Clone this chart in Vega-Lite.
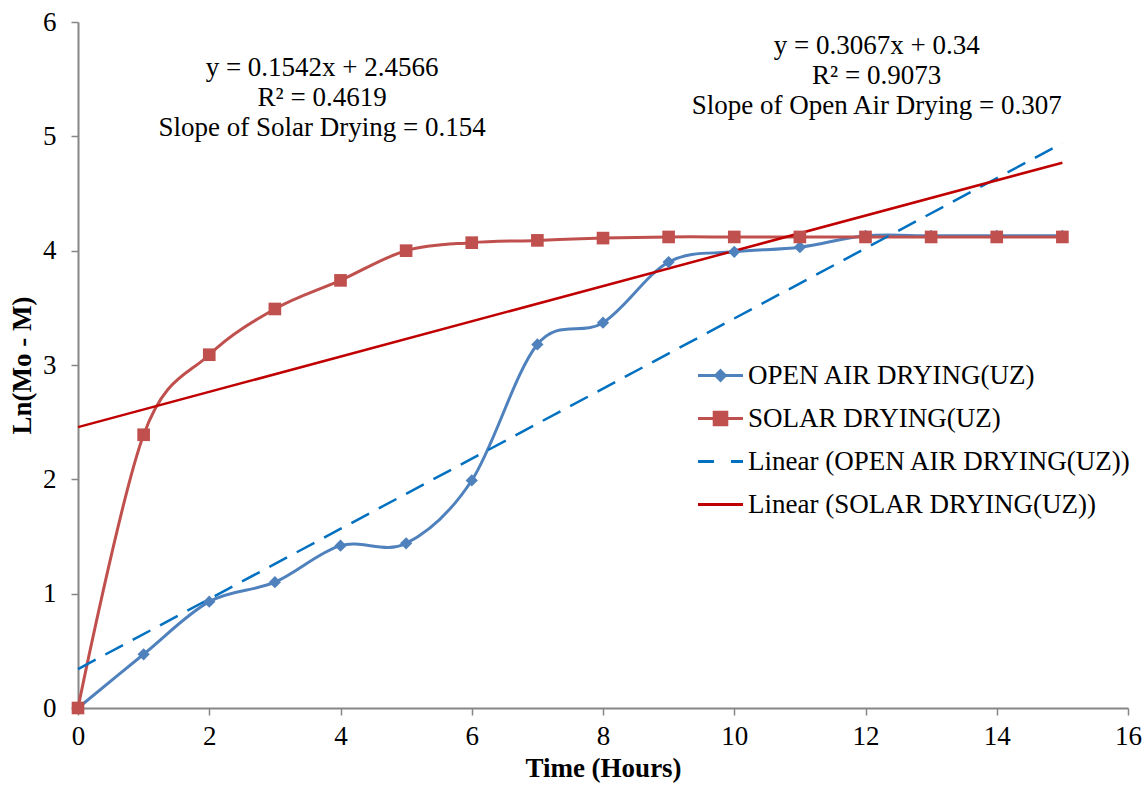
{
  "$schema": "https://vega.github.io/schema/vega-lite/v6.json",
  "width": 1050,
  "height": 686,
  "autosize": {"type": "none"},
  "padding": {"left": 78, "top": 22, "right": 16, "bottom": 80},
  "background": "white",
  "config": {"view": {"stroke": null}, "font": "Liberation Serif"},
  "datasets": {
    "obs": [
      {"time": 0, "value": 0, "series": "OPEN AIR DRYING(UZ)"},
      {"time": 1, "value": 0.47, "series": "OPEN AIR DRYING(UZ)"},
      {"time": 2, "value": 0.93, "series": "OPEN AIR DRYING(UZ)"},
      {"time": 3, "value": 1.10, "series": "OPEN AIR DRYING(UZ)"},
      {"time": 4, "value": 1.42, "series": "OPEN AIR DRYING(UZ)"},
      {"time": 5, "value": 1.44, "series": "OPEN AIR DRYING(UZ)"},
      {"time": 6, "value": 1.99, "series": "OPEN AIR DRYING(UZ)"},
      {"time": 7, "value": 3.18, "series": "OPEN AIR DRYING(UZ)"},
      {"time": 8, "value": 3.37, "series": "OPEN AIR DRYING(UZ)"},
      {"time": 9, "value": 3.90, "series": "OPEN AIR DRYING(UZ)"},
      {"time": 10, "value": 3.99, "series": "OPEN AIR DRYING(UZ)"},
      {"time": 11, "value": 4.03, "series": "OPEN AIR DRYING(UZ)"},
      {"time": 12, "value": 4.13, "series": "OPEN AIR DRYING(UZ)"},
      {"time": 13, "value": 4.13, "series": "OPEN AIR DRYING(UZ)"},
      {"time": 14, "value": 4.13, "series": "OPEN AIR DRYING(UZ)"},
      {"time": 15, "value": 4.13, "series": "OPEN AIR DRYING(UZ)"},
      {"time": 0, "value": 0, "series": "SOLAR DRYING(UZ)"},
      {"time": 1, "value": 2.39, "series": "SOLAR DRYING(UZ)"},
      {"time": 2, "value": 3.09, "series": "SOLAR DRYING(UZ)"},
      {"time": 3, "value": 3.49, "series": "SOLAR DRYING(UZ)"},
      {"time": 4, "value": 3.74, "series": "SOLAR DRYING(UZ)"},
      {"time": 5, "value": 4.00, "series": "SOLAR DRYING(UZ)"},
      {"time": 6, "value": 4.07, "series": "SOLAR DRYING(UZ)"},
      {"time": 7, "value": 4.09, "series": "SOLAR DRYING(UZ)"},
      {"time": 8, "value": 4.11, "series": "SOLAR DRYING(UZ)"},
      {"time": 9, "value": 4.12, "series": "SOLAR DRYING(UZ)"},
      {"time": 10, "value": 4.12, "series": "SOLAR DRYING(UZ)"},
      {"time": 11, "value": 4.12, "series": "SOLAR DRYING(UZ)"},
      {"time": 12, "value": 4.12, "series": "SOLAR DRYING(UZ)"},
      {"time": 13, "value": 4.12, "series": "SOLAR DRYING(UZ)"},
      {"time": 14, "value": 4.12, "series": "SOLAR DRYING(UZ)"},
      {"time": 15, "value": 4.12, "series": "SOLAR DRYING(UZ)"}
    ],
    "trend": [
      {"time": 0, "value": 0.34, "series": "Linear (OPEN AIR DRYING(UZ))"},
      {"time": 15, "value": 4.9405, "series": "Linear (OPEN AIR DRYING(UZ))"},
      {"time": 0, "value": 2.4566, "series": "Linear (SOLAR DRYING(UZ))"},
      {"time": 15, "value": 4.7696, "series": "Linear (SOLAR DRYING(UZ))"}
    ],
    "notes": [
      {"time": 3.72, "value": 5.6, "note": "y = 0.1542x + 2.4566\nR² = 0.4619\nSlope of Solar Drying = 0.154"},
      {"time": 12.17, "value": 5.79, "note": "y = 0.3067x + 0.34\nR² = 0.9073\nSlope of Open Air Drying = 0.307"}
    ]
  },
  "layer": [
    {
      "data": {"name": "obs"},
      "mark": {"type": "line", "interpolate": "cardinal", "strokeWidth": 3},
      "encoding": {
        "x": {
          "field": "time", "type": "quantitative",
          "scale": {"domain": [0, 16], "nice": false},
          "axis": {
            "values": [0, 2, 4, 6, 8, 10, 12, 14, 16], "format": "d",
            "grid": false, "labelFlush": false,
            "domainColor": "#868686", "domainWidth": 2,
            "tickColor": "#868686", "tickWidth": 1.5, "tickSize": 7,
            "labelFont": "Liberation Serif", "labelFontSize": 27, "labelColor": "#000000", "labelPadding": 8,
            "title": "Time (Hours)", "titleFont": "Liberation Serif", "titleFontSize": 27,
            "titleFontWeight": "bold", "titleColor": "#000000", "titlePadding": 6
          }
        },
        "y": {
          "field": "value", "type": "quantitative",
          "scale": {"domain": [0, 6], "nice": false},
          "axis": {
            "values": [0, 1, 2, 3, 4, 5, 6], "format": "d",
            "grid": false,
            "domainColor": "#868686", "domainWidth": 2,
            "tickColor": "#868686", "tickWidth": 1.5, "tickSize": 7,
            "labelFont": "Liberation Serif", "labelFontSize": 27, "labelColor": "#000000", "labelPadding": 15,
            "title": "Ln(Mo - M)", "titleFont": "Liberation Serif", "titleFontSize": 27,
            "titleFontWeight": "bold", "titleColor": "#000000", "titlePadding": 6
          }
        },
        "color": {
          "field": "series", "type": "nominal",
          "scale": {
            "domain": ["OPEN AIR DRYING(UZ)", "SOLAR DRYING(UZ)", "Linear (OPEN AIR DRYING(UZ))", "Linear (SOLAR DRYING(UZ))"],
            "range": ["#4F81BD", "#C0504D", "#0070C0", "#C00000"]
          },
          "legend": {
            "orient": "none", "legendX": 626, "legendY": 337,
            "title": null, "padding": 0,
            "labelFont": "Liberation Serif", "labelFontSize": 27, "labelColor": "#000000",
            "labelOffset": 11, "rowPadding": 13, "symbolSize": 900, "symbolStrokeWidth": 3,
            "labelLimit": 500,
            "encode": {
              "symbols": {
                "update": {
                  "shape": [
                    {"test": "datum.value === 'OPEN AIR DRYING(UZ)'", "value": "M-1.5,0L1.5,0M0,-0.32L0.32,0L0,0.32L-0.32,0Z"},
                    {"test": "datum.value === 'SOLAR DRYING(UZ)'", "value": "M-1.5,0L1.5,0M-0.42,-0.42L0.42,-0.42L0.42,0.42L-0.42,0.42Z"},
                    {"value": "M-1.5,0L1.5,0"}
                  ],
                  "fill": [
                    {"test": "datum.value === 'OPEN AIR DRYING(UZ)'", "value": "#4F81BD"},
                    {"test": "datum.value === 'SOLAR DRYING(UZ)'", "value": "#C0504D"},
                    {"value": "transparent"}
                  ],
                  "stroke": [
                    {"test": "datum.value === 'OPEN AIR DRYING(UZ)'", "value": "#4F81BD"},
                    {"test": "datum.value === 'SOLAR DRYING(UZ)'", "value": "#C0504D"},
                    {"test": "datum.value === 'Linear (OPEN AIR DRYING(UZ))'", "value": "#0070C0"},
                    {"value": "#C00000"}
                  ],
                  "strokeDash": [
                    {"test": "datum.value === 'Linear (OPEN AIR DRYING(UZ))'", "value": [16, 17]},
                    {"value": []}
                  ],
                  "strokeWidth": {"value": 3},
                  "opacity": {"value": 1}
                }
              }
            }
          }
        }
      }
    },
    {
      "data": {"name": "trend"},
      "transform": [{"filter": "datum.series === 'Linear (OPEN AIR DRYING(UZ))'"}],
      "mark": {"type": "line", "strokeWidth": 2.5, "strokeDash": [20, 11]},
      "encoding": {
        "x": {"field": "time", "type": "quantitative"},
        "y": {"field": "value", "type": "quantitative"},
        "color": {"field": "series", "type": "nominal"}
      }
    },
    {
      "data": {"name": "trend"},
      "transform": [{"filter": "datum.series === 'Linear (SOLAR DRYING(UZ))'"}],
      "mark": {"type": "line", "strokeWidth": 2.5},
      "encoding": {
        "x": {"field": "time", "type": "quantitative"},
        "y": {"field": "value", "type": "quantitative"},
        "color": {"field": "series", "type": "nominal"}
      }
    },
    {
      "data": {"name": "obs"},
      "transform": [{"filter": "datum.series === 'OPEN AIR DRYING(UZ)'"}],
      "mark": {"type": "point", "shape": "diamond", "filled": true, "size": 150, "opacity": 1},
      "encoding": {
        "x": {"field": "time", "type": "quantitative"},
        "y": {"field": "value", "type": "quantitative"},
        "color": {"field": "series", "type": "nominal"}
      }
    },
    {
      "data": {"name": "obs"},
      "transform": [{"filter": "datum.series === 'SOLAR DRYING(UZ)'"}],
      "mark": {"type": "point", "shape": "square", "filled": true, "size": 160, "opacity": 1},
      "encoding": {
        "x": {"field": "time", "type": "quantitative"},
        "y": {"field": "value", "type": "quantitative"},
        "color": {"field": "series", "type": "nominal"}
      }
    },
    {
      "data": {"name": "notes"},
      "mark": {"type": "text", "font": "Liberation Serif", "fontSize": 27, "color": "#000000", "align": "center", "baseline": "middle", "lineBreak": "\n", "lineHeight": 30},
      "encoding": {
        "x": {"field": "time", "type": "quantitative"},
        "y": {"field": "value", "type": "quantitative"},
        "text": {"field": "note"}
      }
    }
  ]
}
